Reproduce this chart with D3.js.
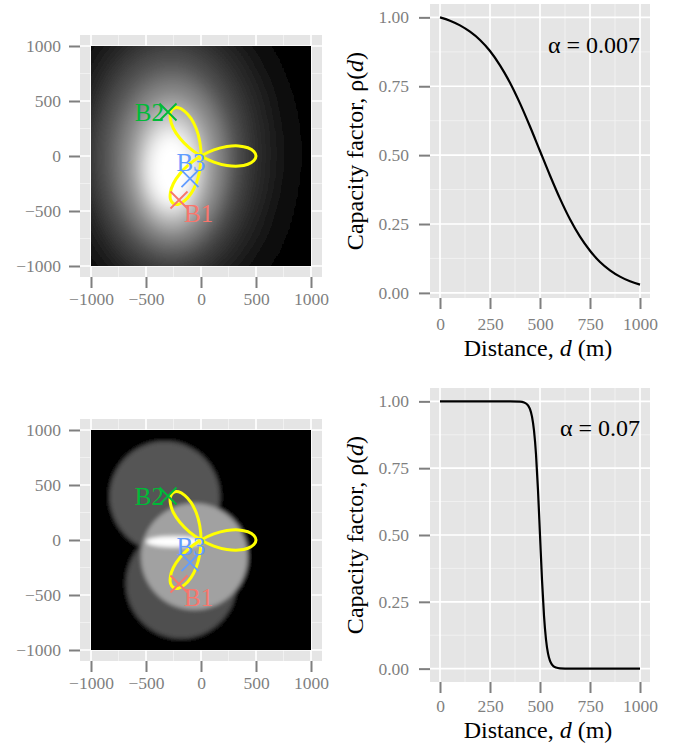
<!DOCTYPE html>
<html><head><meta charset="utf-8">
<script src="https://cdnjs.cloudflare.com/ajax/libs/d3/7.8.5/d3.min.js"></script>
<style>body{margin:0;background:#fff}svg{display:block}</style>
</head><body>
<svg id="c" width="678" height="745"></svg>
<script>
// ---------------- data ----------------
const stationNames = ["B1", "B2", "B3"];
const stationX = [-200, -300, -100];
const stationY = [-400, 400, -205];
const stationColors = ["#F8766D", "#00BA38", "#619CFF"];

// trajectory (three-petal loop)
const pathX = [0, 117, 235, 342, 426, 481, 500, 481, 426, 342, 235, 117,
               0, -106, -192, -251, -278, -277, -250, -204, -148, -91, -43, -11,
               0, -11, -43, -91, -148, -204, -250, -277, -278, -251, -192, -106];
const pathY = [0, -55, -86, -92, -75, -42, 0, 42, 75, 92, 86, 55,
               0, -74, -161, -250, -331, -396, -433, -438, -406, -342, -247, -129,
               0, 129, 247, 342, 406, 438, 433, 396, 331, 250, 161, 74];

const mapTicks = [-1000, -500, 0, 500, 1000];
const distTicks = [0, 250, 500, 750, 1000];
const rhoTicks = [0, 0.25, 0.5, 0.75, 1];

const alphaLabels = ["0.007", "0.07"];
const annotX = 1000, annotY = 0.9;

// capacity factor curves
const distA = [0, 50, 100, 150, 200, 250, 300, 350, 400, 450, 500, 550, 600, 650, 700, 750, 800, 850, 900, 950, 1000];
const rhoA = [1.000, 0.988, 0.971, 0.948, 0.918, 0.878, 0.826, 0.763, 0.688, 0.604, 0.515, 0.426, 0.342, 0.267, 0.204, 0.153, 0.112, 0.082, 0.059, 0.042, 0.030];
const distB = [0, 100, 200, 300, 350, 400, 420, 440, 450, 460, 470, 480, 490, 500, 510, 520, 530, 540, 550, 560, 580, 600, 650, 700, 800, 900, 1000];
const rhoB = [1, 1, 1, 1, 1, 0.999, 0.996, 0.985, 0.971, 0.943, 0.891, 0.802, 0.668, 0.5, 0.332, 0.198, 0.109, 0.057, 0.029, 0.015, 0.004, 0.001, 0, 0, 0, 0, 0];

// heat map (alpha = 0.007): brightness contours
const softCx = [-225, -235, -270, -282, -261, -268, -270, -270];
const softCy = [25, 0, 30, -15, -61, -91, -114, -125];
const softRx = [1075, 915, 790, 612, 451, 308, 230, 150];
const softRy = [1375, 1250, 1151, 894, 697, 515, 371, 275];
const softLevel = [0.06, 0.13, 0.22, 0.4, 0.6, 0.8, 0.94, 1.0];

// heat map (alpha = 0.07): coverage regions
const hardCx = [-330, -180, -60, -250];
const hardCy = [395, -395, -150, -15];
const hardRx = [500, 500, 485, 250];
const hardRy = [500, 500, 485, 50];
const hardLevel = [0.33, 0.31, 0.63, 1.0];

// ---------------- drawing ----------------
const FONT = "'Liberation Serif','Times New Roman',Times,serif";
const TICK_FS = 17.5;
const svg = d3.select("#c");
const defs = svg.append("defs");
svg.append("rect").attr("width", 678).attr("height", 745).attr("fill", "#fff");

const grey = d3.scaleLinear().domain([0, 1]).range(["#000000", "#ffffff"]);
function expand(ext, f = 0.05) { const d = (ext[1] - ext[0]) * f; return [ext[0] - d, ext[1] + d]; }
function mids(t) { return d3.pairs(t).map(([a, b]) => (a + b) / 2); }

function styleAxis(sel) {
  sel.select(".domain").remove();
  sel.selectAll(".tick line").attr("stroke", "#7F7F7F").attr("stroke-width", 2);
  sel.selectAll(".tick text").attr("fill", "#7F7F7F").attr("font-size", TICK_FS).attr("font-family", FONT);
}

function grid(g, x, y, xt, yt) {
  const [x0, x1] = x.range(), [y0, y1] = y.range();
  g.selectAll(null).data(mids(xt)).join("line")
    .attr("x1", d => x(d)).attr("x2", d => x(d)).attr("y1", y0).attr("y2", y1)
    .attr("stroke", "#F2F2F2").attr("stroke-width", 0.9);
  g.selectAll(null).data(mids(yt)).join("line")
    .attr("y1", d => y(d)).attr("y2", d => y(d)).attr("x1", x0).attr("x2", x1)
    .attr("stroke", "#F2F2F2").attr("stroke-width", 0.9);
  g.selectAll(null).data(xt).join("line")
    .attr("x1", d => x(d)).attr("x2", d => x(d)).attr("y1", y0).attr("y2", y1)
    .attr("stroke", "#fff").attr("stroke-width", 1.7);
  g.selectAll(null).data(yt).join("line")
    .attr("y1", d => y(d)).attr("y2", d => y(d)).attr("x1", x0).attr("x2", x1)
    .attr("stroke", "#fff").attr("stroke-width", 1.7);
}

// map panels (soft: contours with feathered edges; hard: crisp regions, light blur)
const mapPanels = [
  { top: 35, bottom: 277, blur: 4, feather: 1.3, cx: softCx, cy: softCy, rx: softRx, ry: softRy, lv: softLevel },
  { top: 419, bottom: 661, blur: 2.3, feather: 1, cx: hardCx, cy: hardCy, rx: hardRx, ry: hardRy, lv: hardLevel }
];
const featherStops = [[0, 1], [0.54, 1], [0.65, 0.85], [0.77, 0.5], [0.89, 0.15], [1, 0]];

mapPanels.forEach((p, i) => {
  const x = d3.scaleLinear().domain(expand(d3.extent(mapTicks))).range([80, 322]);
  const y = d3.scaleLinear().domain(expand(d3.extent(mapTicks))).range([p.bottom, p.top]);
  const g = svg.append("g");
  g.append("rect").attr("x", 80).attr("y", p.top).attr("width", 242).attr("height", p.bottom - p.top).attr("fill", "#E5E5E5");
  grid(g, x, y, mapTicks, mapTicks);

  const lo = d3.min(mapTicks), hi = d3.max(mapTicks);
  defs.append("clipPath").attr("id", "clip" + i).append("rect")
    .attr("x", x(lo)).attr("y", y(hi)).attr("width", x(hi) - x(lo)).attr("height", y(lo) - y(hi));
  defs.append("filter").attr("id", "blur" + i).attr("filterUnits", "userSpaceOnUse")
    .attr("x", 0).attr("y", 0).attr("width", 678).attr("height", 745)
    .append("feGaussianBlur").attr("stdDeviation", p.blur);
  const hg = g.append("g").attr("clip-path", `url(#clip${i})`).append("g").attr("filter", `url(#blur${i})`);
  hg.append("rect").attr("x", x(lo * 1.4)).attr("y", y(hi * 1.4)).attr("width", x(hi * 1.4) - x(lo * 1.4)).attr("height", y(lo * 1.4) - y(hi * 1.4)).attr("fill", "#000");
  const idx = d3.range(p.cx.length);
  if (p.feather > 1) {
    idx.forEach(k => {
      const gr = defs.append("radialGradient").attr("id", `fg${i}_${k}`);
      featherStops.forEach(([o, a]) => gr.append("stop").attr("offset", o)
        .attr("stop-color", grey(p.lv[k])).attr("stop-opacity", a));
    });
  }
  hg.selectAll("ellipse").data(idx).join("ellipse")
    .attr("cx", k => x(p.cx[k])).attr("cy", k => y(p.cy[k]))
    .attr("rx", k => (x(p.rx[k]) - x(0)) * p.feather).attr("ry", k => (y(0) - y(p.ry[k])) * p.feather)
    .attr("fill", k => p.feather > 1 ? `url(#fg${i}_${k})` : grey(p.lv[k]));

  // trajectory
  const line = d3.line().x(k => x(pathX[k])).y(k => y(pathY[k])).curve(d3.curveCatmullRomClosed.alpha(0.5));
  g.append("path").attr("d", line(d3.range(pathX.length))).attr("fill", "none")
    .attr("stroke", "#FFFF00").attr("stroke-width", 3);

  // stations
  const s = 8.5;
  stationNames.forEach((n, k) => {
    const cx = x(stationX[k]), cy = y(stationY[k]);
    g.append("path").attr("d", `M${cx - s},${cy - s}L${cx + s},${cy + s}M${cx - s},${cy + s}L${cx + s},${cy - s}`)
      .attr("stroke", stationColors[k]).attr("stroke-width", 1.8).attr("fill", "none");
  });
  const lab = [{ dx: 5, dy: 21.5, a: "start" }, { dx: -4, dy: 8.5, a: "end" }, { dx: 1, dy: -8, a: "middle" }];
  stationNames.forEach((n, k) => {
    g.append("text").attr("x", x(stationX[k]) + lab[k].dx).attr("y", y(stationY[k]) + lab[k].dy)
      .attr("text-anchor", lab[k].a).attr("font-family", FONT).attr("font-size", 25)
      .attr("fill", stationColors[k]).text(n);
  });

  const ax = g.append("g").attr("transform", `translate(0,${p.bottom})`)
    .call(d3.axisBottom(x).tickValues(mapTicks).tickSize(11).tickPadding(5).tickFormat(d3.format("d")));
  styleAxis(ax);
  const ay = g.append("g").attr("transform", `translate(80,0)`)
    .call(d3.axisLeft(y).tickValues(mapTicks).tickSize(11).tickPadding(8).tickFormat(d3.format("d")));
  styleAxis(ay);
});

// capacity factor panels
const curvePanels = [
  { top: 4, bottom: 298, d: distA, r: rhoA, a: alphaLabels[0], titleY: 355.5, pad: 9 },
  { top: 388, bottom: 682, d: distB, r: rhoB, a: alphaLabels[1], titleY: 737.5, pad: 7 }
];

curvePanels.forEach((p, i) => {
  const x = d3.scaleLinear().domain(expand(d3.extent(distTicks))).range([430, 650]);
  const y = d3.scaleLinear().domain(expand(d3.extent(p.r))).range([p.bottom, p.top]);
  const g = svg.append("g");
  g.append("rect").attr("x", 430).attr("y", p.top).attr("width", 220).attr("height", p.bottom - p.top).attr("fill", "#E5E5E5");
  grid(g, x, y, distTicks, rhoTicks);

  const line = d3.line().x(k => x(p.d[k])).y(k => y(p.r[k])).curve(d3.curveMonotoneX);
  g.append("path").attr("d", line(d3.range(p.d.length))).attr("fill", "none")
    .attr("stroke", "#000").attr("stroke-width", 2.2);

  g.append("text").attr("x", x(annotX)).attr("y", y(annotY)).attr("dy", "0.35em")
    .attr("text-anchor", "end").attr("font-family", FONT).attr("font-size", 24).attr("fill", "#000")
    .text("α = " + p.a);

  const ax = g.append("g").attr("transform", `translate(0,${p.bottom})`)
    .call(d3.axisBottom(x).tickValues(distTicks).tickSize(11).tickPadding(p.pad).tickFormat(d3.format("d")));
  styleAxis(ax);
  const ay = g.append("g").attr("transform", `translate(430,0)`)
    .call(d3.axisLeft(y).tickValues(rhoTicks).tickSize(11).tickPadding(10).tickFormat(d3.format(".2f")));
  styleAxis(ay);

  const xt = g.append("text").attr("x", 538).attr("y", p.titleY).attr("text-anchor", "middle")
    .attr("font-family", FONT).attr("font-size", 24).attr("fill", "#000");
  xt.append("tspan").text("Distance, ");
  xt.append("tspan").attr("font-style", "italic").text("d");
  xt.append("tspan").text(" (m)");

  const yt = g.append("text").attr("transform", `translate(363,${(p.top + p.bottom) / 2}) rotate(-90)`)
    .attr("text-anchor", "middle").attr("font-family", FONT).attr("font-size", 24).attr("fill", "#000");
  yt.append("tspan").text("Capacity factor, ρ(");
  yt.append("tspan").attr("font-style", "italic").text("d");
  yt.append("tspan").text(")");
});
</script>
</body></html>
